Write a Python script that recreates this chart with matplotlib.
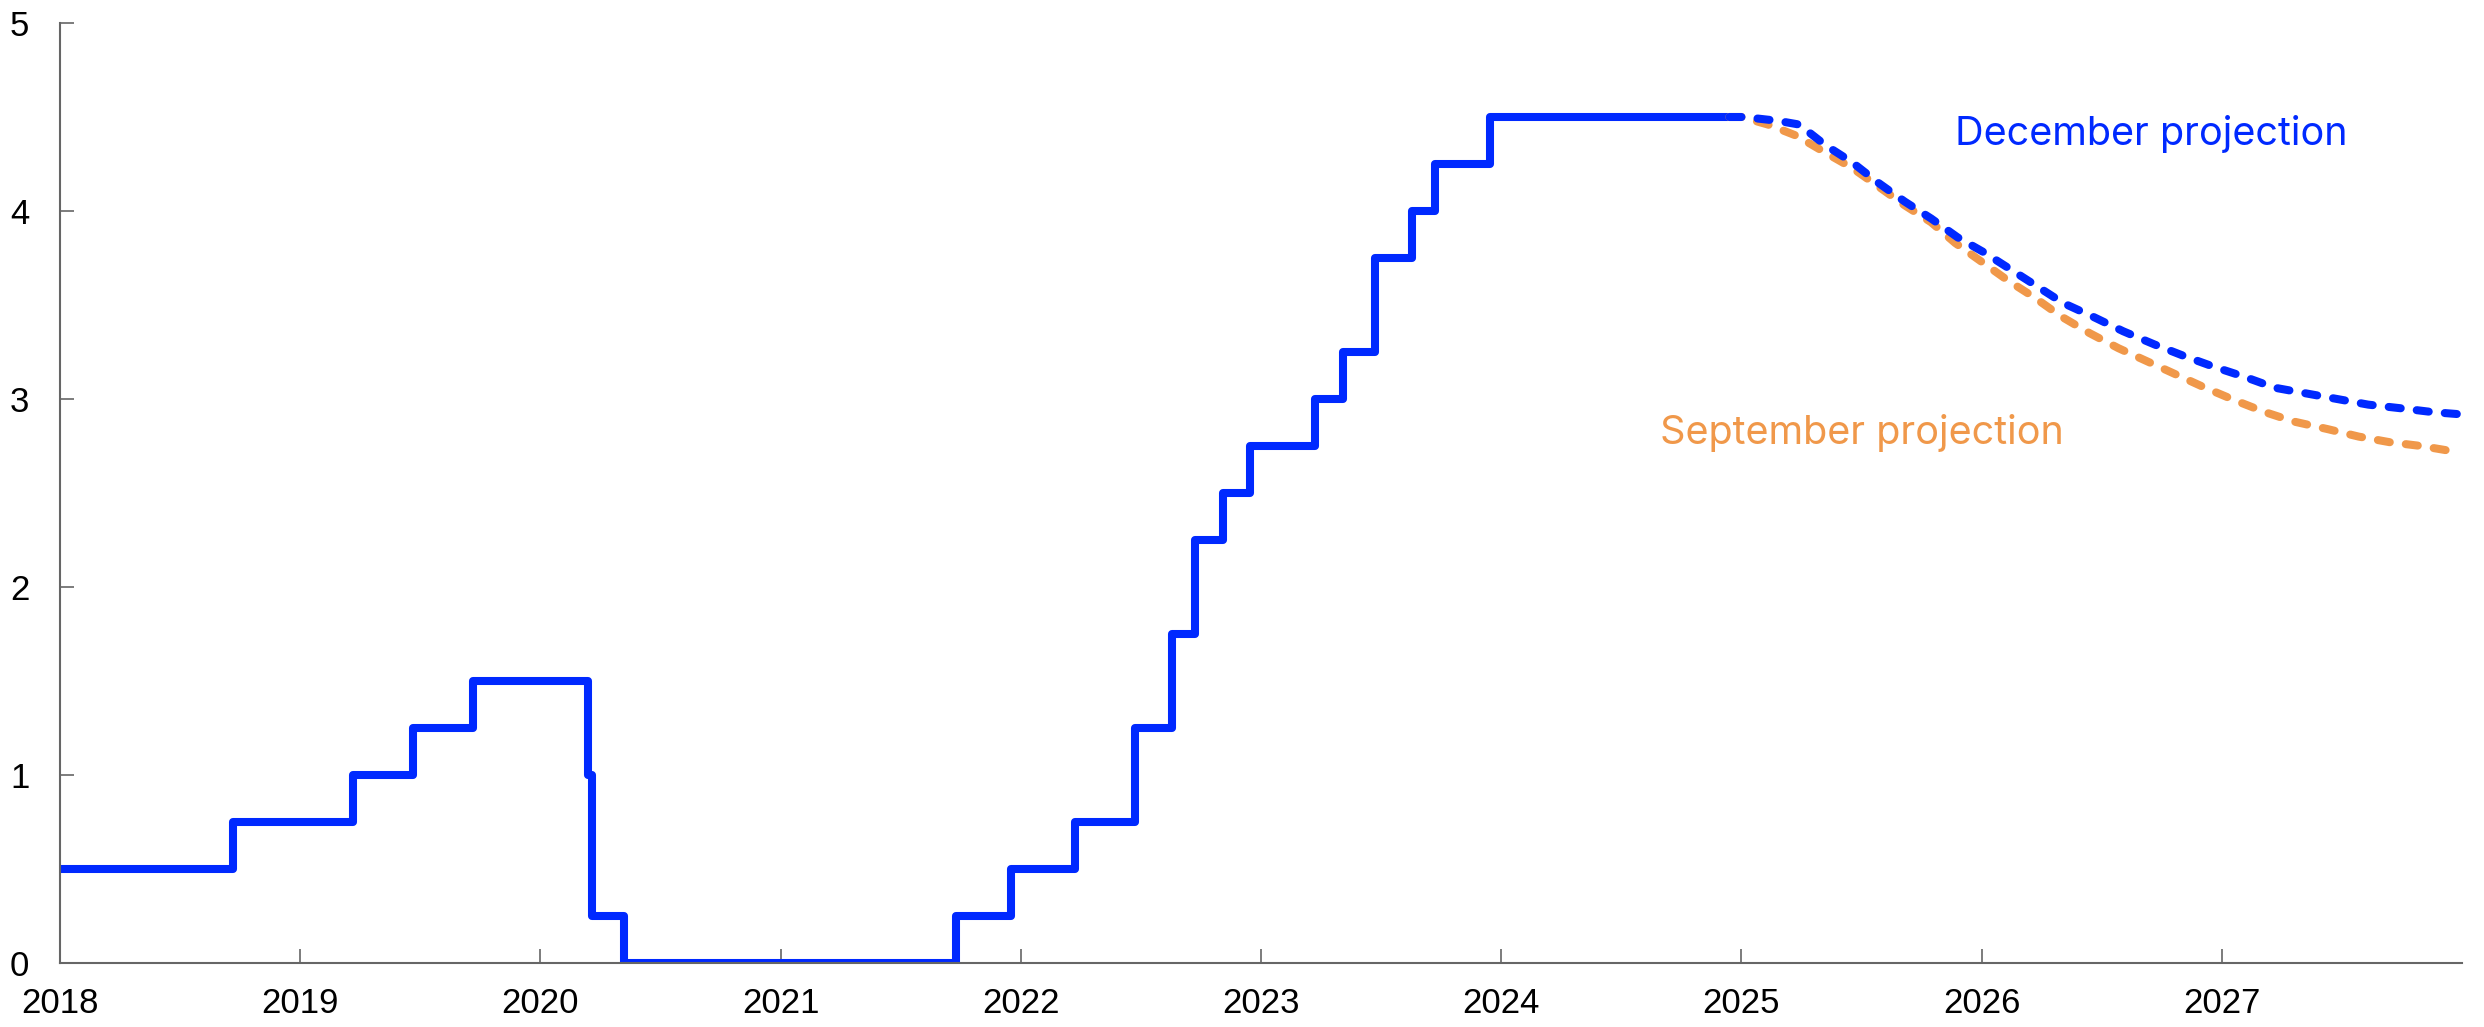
from __future__ import annotations

from dataclasses import dataclass

import matplotlib as mpl
import matplotlib.pyplot as plt
import pandas as pd

# Policy rate decisions (date the new rate took effect, rate in percent)
rate_dates = [
    "2018-01-01", "2018-09-21", "2019-03-22", "2019-06-21", "2019-09-20",
    "2020-03-13", "2020-03-20", "2020-05-08", "2021-09-24", "2021-12-17",
    "2022-03-25", "2022-06-24", "2022-08-19", "2022-09-23", "2022-11-04",
    "2022-12-16", "2023-03-24", "2023-05-05", "2023-06-23", "2023-08-18",
    "2023-09-22", "2023-12-15", "2024-12-12",
]
rate_values = [
    0.50, 0.75, 1.00, 1.25, 1.50,
    1.00, 0.25, 0.00, 0.25, 0.50,
    0.75, 1.25, 1.75, 2.25, 2.50,
    2.75, 3.00, 3.25, 3.75, 4.00,
    4.25, 4.50, 4.50,
]

# Projections, x in decimal years
december_x = [
    2024.95, 2025.01, 2025.15, 2025.24, 2025.35, 2025.46, 2025.57, 2025.68,
    2025.79, 2025.90, 2026.01, 2026.12, 2026.23, 2026.34, 2026.46, 2026.59,
    2026.72, 2026.84, 2026.97, 2027.09, 2027.22, 2027.35, 2027.48, 2027.61,
    2027.75, 2027.88, 2027.98,
]
december_y = [
    4.50, 4.50, 4.48, 4.46, 4.35, 4.26, 4.15, 4.05,
    3.96, 3.86, 3.78, 3.69, 3.60, 3.51, 3.44, 3.36,
    3.29, 3.23, 3.17, 3.12, 3.06, 3.03, 3.00, 2.97,
    2.95, 2.93, 2.92,
]
september_x = [
    2024.95, 2025.00, 2025.11, 2025.23, 2025.35, 2025.46, 2025.56, 2025.68,
    2025.79, 2025.89, 2026.00, 2026.11, 2026.22, 2026.33, 2026.45, 2026.57,
    2026.69, 2026.81, 2026.93, 2027.06, 2027.18, 2027.30, 2027.44, 2027.57,
    2027.70, 2027.83, 2027.97,
]
september_y = [
    4.50, 4.50, 4.46, 4.40, 4.31, 4.23, 4.14, 4.03,
    3.94, 3.83, 3.73, 3.63, 3.54, 3.44, 3.35, 3.27,
    3.20, 3.13, 3.06, 2.99, 2.93, 2.88, 2.84, 2.80,
    2.77, 2.75, 2.72,
]

year_ticks = list(range(2018, 2028))
y_ticks = [0, 1, 2, 3, 4, 5]


@dataclass
class PlotStyle:
    figsize: tuple = (24.84, 10.27)
    dpi: int = 100
    blue: str = "#0029ff"
    orange: str = "#f0984a"
    spine_color: str = "#666666"
    line_width: float = 5.8
    tick_size: int = 25
    label_size: float = 28.5


def to_decimal_year(dates: list[str]) -> list[float]:
    ts = pd.to_datetime(pd.Series(dates))
    start = pd.to_datetime(ts.dt.year.astype(str) + "-01-01")
    end = pd.to_datetime((ts.dt.year + 1).astype(str) + "-01-01")
    frac = (ts - start) / (end - start)
    return list(ts.dt.year + frac)


def main() -> None:
    style = PlotStyle()
    mpl.rcParams.update(
        {
            "font.family": ["Liberation Sans", "DejaVu Sans"],
            "axes.spines.top": False,
            "axes.spines.right": False,
        }
    )

    fig = plt.figure(figsize=style.figsize, dpi=style.dpi)
    ax = fig.add_axes([60 / 2484, 1 - 963 / 1027, 2402 / 2484, 940 / 1027])

    rate_x = to_decimal_year(rate_dates)
    ax.plot(
        rate_x, rate_values, drawstyle="steps-post", color=style.blue,
        linewidth=style.line_width, solid_joinstyle="round",
        solid_capstyle="round", zorder=2,
    )
    ax.plot(
        september_x, september_y, color=style.orange, linewidth=style.line_width,
        dashes=(1.5, 2.0), dash_capstyle="round", zorder=3,
    )
    ax.plot(
        december_x, december_y, color=style.blue, linewidth=style.line_width,
        dashes=(1.5, 2.0), dash_capstyle="round", zorder=4,
    )

    ax.text(2025.89, 4.41, "December projection", color=style.blue,
            fontsize=style.label_size, family=["Inter", "DejaVu Sans"],
            ha="left", va="center")
    ax.text(2024.66, 2.82, "September projection", color=style.orange,
            fontsize=style.label_size, family=["Inter", "DejaVu Sans"],
            ha="left", va="center")

    ax.set_xlim(2018, 2028)
    ax.set_ylim(0, 5)
    ax.set_xticks(year_ticks)
    ax.set_xticklabels([str(y) for y in year_ticks])
    ax.set_yticks(y_ticks)

    for side in ("left", "bottom"):
        ax.spines[side].set_color(style.spine_color)
        ax.spines[side].set_linewidth(1.5)
    ax.tick_params(axis="both", direction="in", length=10, width=1.2,
                   color=style.spine_color, labelsize=style.tick_size,
                   labelcolor="black")
    ax.tick_params(axis="x", pad=17)
    ax.tick_params(axis="y", pad=22)

    fig.savefig("out.png", dpi=style.dpi)
    plt.close(fig)


if __name__ == "__main__":
    main()
